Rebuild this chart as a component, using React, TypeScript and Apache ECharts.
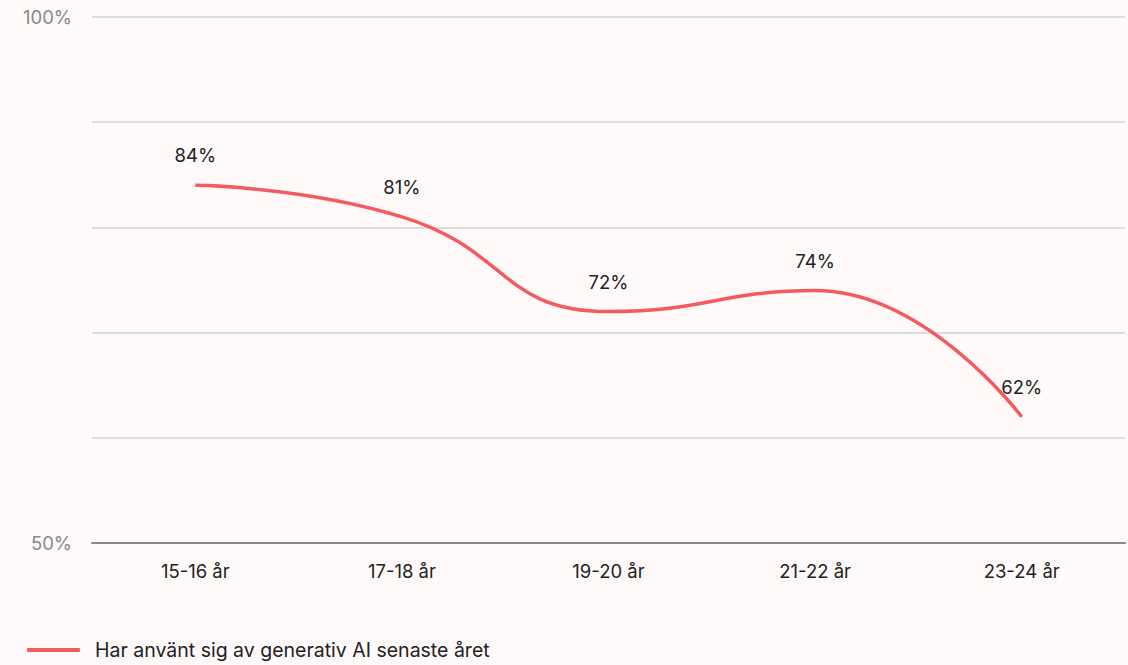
import React, { useEffect, useRef } from "react";
import * as echarts from "echarts";

const categories = ["15-16 år", "17-18 år", "19-20 år", "21-22 år", "23-24 år"];
const values = [84, 81, 72, 74, 62];
const seriesName = "Har använt sig av generativ AI senaste året";
const yLabelsShown = [50, 100];

export default function App() {
  const ref = useRef<HTMLDivElement>(null);
  useEffect(() => {
    document.body.style.margin = "0";
    const chart = echarts.init(ref.current!, null, { renderer: "svg" });
    const font = "Inter, 'Noto Sans', sans-serif";
    chart.setOption({
      animation: false,
      backgroundColor: "#fffaf9",
      textStyle: { fontFamily: font },
      grid: { left: 92, right: 3, top: 17, bottom: 122, containLabel: false },
      legend: {
        left: 27,
        top: 640,
        padding: 0,
        icon: "roundRect",
        itemWidth: 53,
        itemHeight: 4,
        textStyle: { fontSize: 19.5, color: "#222", fontFamily: font, padding: [0, 0, 0, 10] },
        data: [seriesName],
      },
      xAxis: {
        type: "category",
        data: categories,
        boundaryGap: true,
        axisTick: { show: false },
        axisLine: { lineStyle: { color: "#888", width: 2 } },
        axisLabel: { color: "#222", fontSize: 18.5, margin: 18, fontFamily: font },
      },
      yAxis: {
        type: "value",
        min: 50,
        max: 100,
        interval: 10,
        axisLine: { show: false },
        axisTick: { show: false },
        splitLine: { lineStyle: { color: "#dddddd", width: 2 } },
        axisLabel: {
          color: "#888",
          fontSize: 18.5,
          margin: 20,
          fontFamily: font,
          formatter: (v: number) => (yLabelsShown.includes(v) ? v + "%" : ""),
        },
      },
      series: [
        {
          name: seriesName,
          type: "line",
          data: values,
          smooth: true,
          symbol: "circle",
          symbolSize: 1,
          showSymbol: true,
          lineStyle: { color: "#f45b60", width: 3.5 },
          itemStyle: { color: "#f45b60" },
          label: {
            show: true,
            position: "top",
            distance: 20,
            formatter: "{c}%",
            color: "#222",
            fontSize: 18.5,
            fontFamily: font,
          },
        },
      ],
    });
    return () => chart.dispose();
  }, []);
  return <div ref={ref} style={{ width: 1128, height: 665 }} />;
}
